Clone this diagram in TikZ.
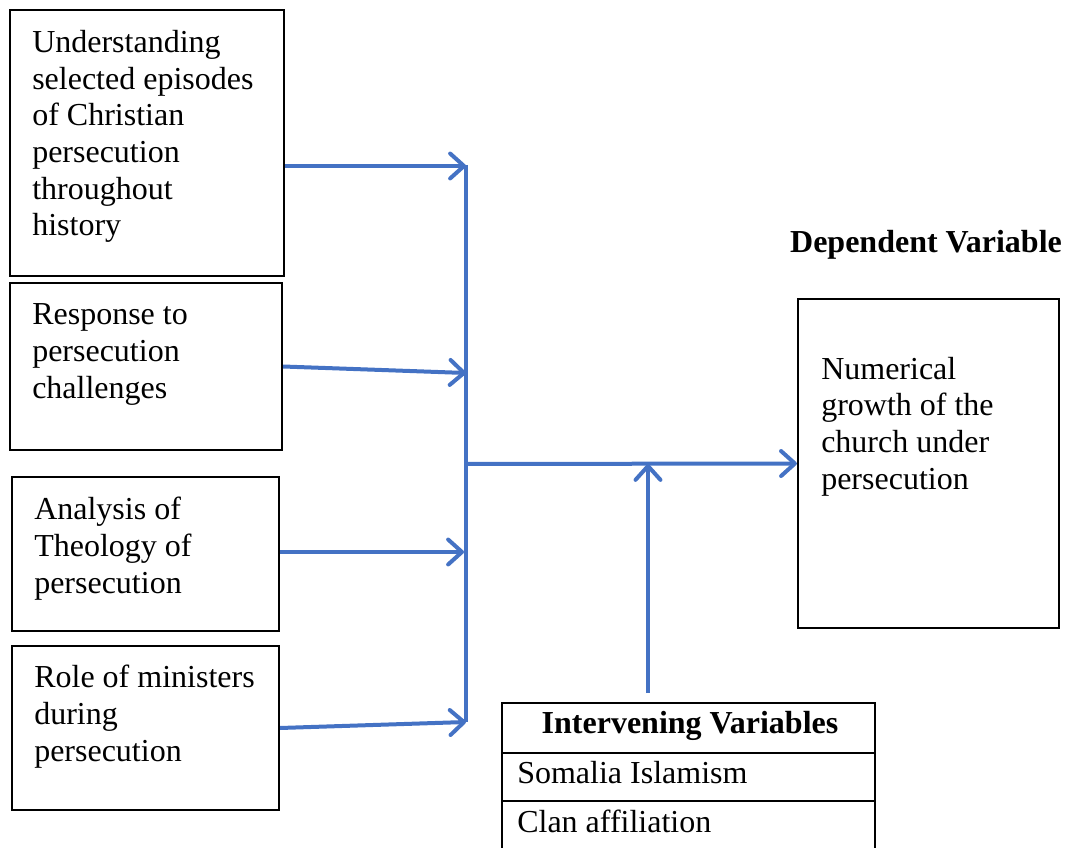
\documentclass[tikz,border=0pt]{standalone}
\usepackage{fontspec}
\setmainfont{Liberation Serif}
\usetikzlibrary{arrows.meta}
\definecolor{flowblue}{HTML}{4472C4}
\begin{document}
\begin{tikzpicture}[x=0.75pt,y=-0.75pt,
  box/.style={draw=black,line width=1.6pt,inner sep=0pt,anchor=center},
  cell/.style={draw=black,line width=1pt,inner sep=0pt,anchor=center,minimum width=279.75pt},
  txt/.style={inner sep=0pt,anchor=base west,align=left,font=\fontsize{24}{27.5}\selectfont},
  flow/.style={draw=flowblue,line width=3pt},
  arr/.style={flow,-{Straight Barb[angle=84:14pt,round]}}]
\useasboundingbox (0,0) rectangle (1067,848);
% boxes
\node[box,minimum width=205.5pt,minimum height=199.5pt] (b1) at (147,143) {};
\node[box,minimum width=204pt,minimum height=125.25pt] (b2) at (146,366.5) {};
\node[box,minimum width=200.25pt,minimum height=115.5pt] (b3) at (145.5,554) {};
\node[box,minimum width=200.25pt,minimum height=123pt] (b4) at (145.5,728) {};
\node[box,minimum width=195.75pt,minimum height=246.75pt] (dv) at (928.5,463.5) {};
% texts (anchored at the baseline of their last line)
\node[txt] (t1) at (32,236) {Understanding\\selected episodes\\of Christian\\persecution\\throughout\\history};
\node[txt] (t2) at (32,398) {Response to\\persecution\\challenges};
\node[txt] (t3) at (34,593) {Analysis of\\Theology of\\persecution};
\node[txt] (t4) at (34,761) {Role of ministers\\during\\persecution};
\node[txt] (t5) at (821,489) {Numerical\\growth of the\\church under\\persecution};
\node[inner sep=0pt,anchor=base,font=\fontsize{24}{27.5}\selectfont\bfseries] (dvl) at (926,253) {Dependent Variable};
% table
\node[cell,minimum height=37.5pt] (h) at (688.5,728) {};
\node[cell,minimum height=36pt] (r1) at (688.5,777) {};
\coordinate (r2l) at (502,801);
\coordinate (r2r) at (875,801);
\draw[black,line width=1pt] (r2l) -- (502,849) (r2r) -- (875,849);
\node[inner sep=0pt,anchor=base,font=\fontsize{24}{27.5}\selectfont\bfseries] (ht) at (690,733) {Intervening Variables};
\node[txt] (s1) at (517,783) {Somalia Islamism};
\node[txt] (s2) at (517,832) {Clan affiliation};
% connectors
\coordinate (top) at (466,165);
\coordinate (bot) at (466,722);
\coordinate (j1) at (466,166);
\coordinate (j2) at (466,373);
\coordinate (j3) at (464,552);
\coordinate (j4) at (466,722);
\coordinate (jm) at (466,464);
\coordinate (up) at (648,464);
\coordinate (upst) at (648,693);
\draw[flow] (top) -- (bot);
\draw[arr] (b1.east |- j1) -- (j1);
\draw[arr] (b2.east) -- (j2);
\draw[arr] (b3.east |- j3) -- (j3);
\draw[arr] (b4.east) -- (j4);
\draw[arr] (jm) -- (dv.west);
\draw[arr] (upst) -- (up);
\end{tikzpicture}
\end{document}
